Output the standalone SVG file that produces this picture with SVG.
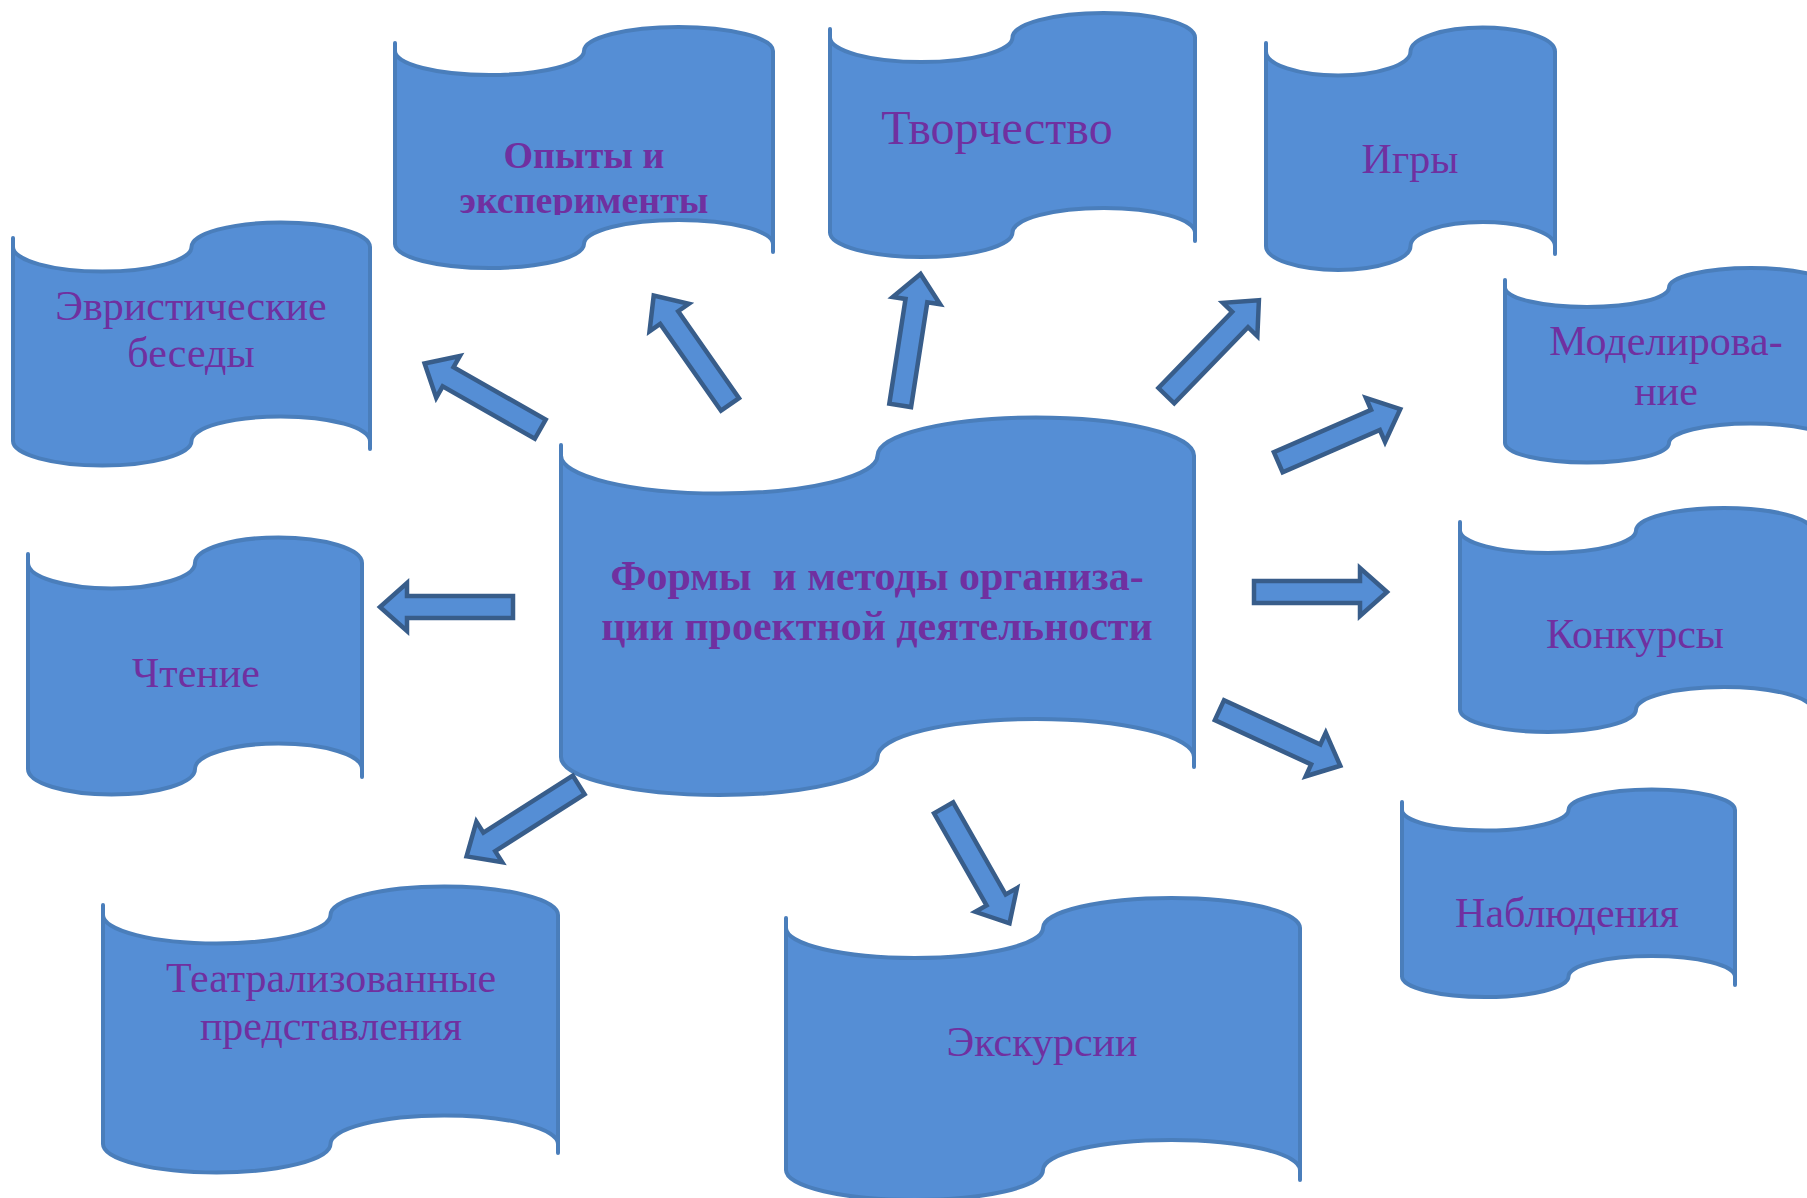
<svg xmlns="http://www.w3.org/2000/svg" width="1807" height="1198" viewBox="0 0 1807 1198">
<style>
.nd{fill:#558ED5;stroke:#4A7EBB;stroke-width:4;stroke-linejoin:round}
.ar{fill:#558ED5;stroke:#385D8A;stroke-width:4.5;stroke-linejoin:miter}
.t{font-family:"Liberation Serif","Times New Roman",serif;fill:#7030A0;font-size:42px;text-anchor:middle}
.b{font-weight:bold}
</style>
<defs>
<path id="arw" d="M-3,0 L-30,-24 L-30,-11 L-136,-11 L-136,11 L-30,11 L-30,24 Z"/>
<clipPath id="clipOp"><rect x="395" y="0" width="380" height="215"/></clipPath>
</defs>
<rect width="1807" height="1198" fill="#FFFFFF"/>

<g id="node-center">
<path class="nd" d="M561,445 L561,455.5 A158.25,38 0 0 0 877.5,455.5 A158.25,38 0 0 1 1194,455.5 L1194,767 L1194,757 A158.25,38 0 0 0 877.5,757 A158.25,38 0 0 1 561,757 Z"/>
<text class="t b" xml:space="preserve" style="white-space:pre" x="877" y="590">Формы  и методы организа-</text>
<text class="t b" x="877" y="640">ции проектной деятельности</text>
</g>

<g id="node-opyty">
<path class="nd" d="M395,43 L395,51 A94.5,24 0 0 0 584,51 A94.5,24 0 0 1 773,51 L773,252 L773,244 A94.5,24 0 0 0 584,244 A94.5,24 0 0 1 395,244 Z"/>
<g clip-path="url(#clipOp)">
<text class="t b" style="font-size:38px" x="584" y="168">Опыты и</text>
<text class="t b" style="font-size:38px" x="584" y="213">эксперименты</text>
</g>
</g>

<g id="node-tvorchestvo">
<path class="nd" d="M830,29 L830,37.5 A91.25,24.5 0 0 0 1012.5,37.5 A91.25,24.5 0 0 1 1195,37.5 L1195,241 L1195,232.5 A91.25,24.5 0 0 0 1012.5,232.5 A91.25,24.5 0 0 1 830,232.5 Z"/>
<text class="t" style="font-size:48px" x="997" y="144">Творчество</text>
</g>

<g id="node-igry">
<path class="nd" d="M1266,43 L1266,51.5 A72.25,24 0 0 0 1410.5,51.5 A72.25,24 0 0 1 1555,51.5 L1555,254 L1555,246 A72.25,24 0 0 0 1410.5,246 A72.25,24 0 0 1 1266,246 Z"/>
<text class="t" x="1410" y="173">Игры</text>
</g>

<g id="node-evristicheskie">
<path class="nd" d="M13,238 L13,247 A89.25,24.5 0 0 0 191.5,247 A89.25,24.5 0 0 1 370,247 L370,449 L370,441 A89.25,24.5 0 0 0 191.5,441 A89.25,24.5 0 0 1 13,441 Z"/>
<text class="t" x="191" y="320">Эвристические</text>
<text class="t" x="191" y="367">беседы</text>
</g>

<g id="node-modelirovanie">
<path class="nd" d="M1505,280 L1505,287.5 A82,19.5 0 0 0 1669,287.5 A82,19.5 0 0 1 1833,287.5 L1833,443 A82,19.5 0 0 0 1669,443 A82,19.5 0 0 1 1505,443 Z"/>
<text class="t" x="1666" y="355">Моделирова-</text>
<text class="t" x="1666" y="405">ние</text>
</g>

<g id="node-chtenie">
<path class="nd" d="M28,554 L28,563 A83.5,25.5 0 0 0 195,563 A83.5,25.5 0 0 1 362,563 L362,777 L362,769 A83.5,25.5 0 0 0 195,769 A83.5,25.5 0 0 1 28,769 Z"/>
<text class="t" x="196" y="687">Чтение</text>
</g>

<g id="node-konkursy">
<path class="nd" d="M1460,522 L1460,530.5 A88,22.5 0 0 0 1636,530.5 A88,22.5 0 0 1 1812,530.5 L1812,709.5 A88,22.5 0 0 0 1636,709.5 A88,22.5 0 0 1 1460,709.5 Z"/>
<text class="t" x="1635" y="648">Конкурсы</text>
</g>

<g id="node-nablyudeniya">
<path class="nd" d="M1402,802 L1402,810 A83.25,20.5 0 0 0 1568.5,810 A83.25,20.5 0 0 1 1735,810 L1735,985 L1735,976.5 A83.25,20.5 0 0 0 1568.5,976.5 A83.25,20.5 0 0 1 1402,976.5 Z"/>
<text class="t" x="1567" y="927">Наблюдения</text>
</g>

<g id="node-teatr">
<path class="nd" d="M103,905 L103,915 A113.75,28.5 0 0 0 330.5,915 A113.75,28.5 0 0 1 558,915 L558,1153 L558,1144 A113.75,28.5 0 0 0 330.5,1144 A113.75,28.5 0 0 1 103,1144 Z"/>
<text class="t" x="331" y="992">Театрализованные</text>
<text class="t" x="331" y="1040">представления</text>
</g>

<g id="node-ekskursii">
<path class="nd" d="M786,918 L786,928 A128.5,30 0 0 0 1043,928 A128.5,30 0 0 1 1300,928 L1300,1180 L1300,1170 A128.5,30 0 0 0 1043,1170 A128.5,30 0 0 1 786,1170 Z"/>
<text class="t" x="1042" y="1056">Экскурсии</text>
</g>

<g id="connectors">
<use href="#arw" class="ar" transform="translate(422 362) rotate(-150.4)"/>
<use href="#arw" class="ar" transform="translate(652 293) rotate(-125)"/>
<use href="#arw" class="ar" transform="translate(921 271) rotate(-81.2)"/>
<use href="#arw" class="ar" transform="translate(1261 298) rotate(-45.9)"/>
<use href="#arw" class="ar" transform="translate(1403 408) rotate(-23.5)"/>
<use href="#arw" class="ar" transform="translate(1390 592) rotate(0)"/>
<use href="#arw" class="ar" transform="translate(1343 767) rotate(24.7)"/>
<use href="#arw" class="ar" transform="translate(1011 926) rotate(60.3)"/>
<use href="#arw" class="ar" transform="translate(464 858) rotate(147.5)"/>
<use href="#arw" class="ar" transform="translate(377 607) rotate(180)"/>
</g>
</svg>
